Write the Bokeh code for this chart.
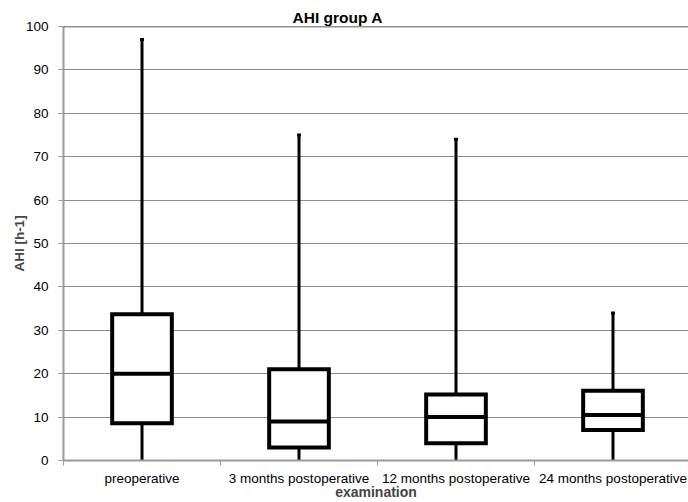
from bokeh.plotting import figure
from bokeh.models import Range1d, FixedTicker, Span, ColumnDataSource, Title
from bokeh.embed import file_html
from bokeh.resources import INLINE

categories = ["preoperative", "3 months postoperative", "12 months postoperative", "24 months postoperative"]
q_min = [0, 0, 0, 0]
q1 = [8.6, 3.0, 4.0, 7.0]
median = [20.0, 9.0, 10.0, 10.5]
q3 = [33.7, 21.0, 15.2, 16.1]
q_max = [97.0, 75.0, 74.0, 34.0]

FONT = "Liberation Sans"
centers = [i + 0.5 for i in range(len(categories))]
bw = 0.38
cap = 0.025

src = ColumnDataSource(dict(
    x=centers, left=[c - bw / 2 for c in centers], right=[c + bw / 2 for c in centers],
    cl=[c - cap / 2 for c in centers], cr=[c + cap / 2 for c in centers],
    lo=q_min, q1=q1, med=median, q3=q3, hi=q_max,
))

p = figure(width=688, height=502, output_backend="svg", toolbar_location=None,
           x_range=Range1d(0, 625 / 157), y_range=Range1d(0, 100),
           min_border_left=63, min_border_right=0, min_border_top=26, min_border_bottom=10)
p.outline_line_color = None
p.background_fill_color = "white"
p.border_fill_color = "white"

p.title = Title(text="AHI group A", align="left", offset=229, text_font=FONT,
                text_font_style="bold", text_font_size="15.5px", text_color="black",
                standoff=1)

# whiskers
p.segment(x0="x", y0="q3", x1="x", y1="hi", source=src, line_color="black", line_width=3)
p.segment(x0="x", y0="lo", x1="x", y1="q1", source=src, line_color="black", line_width=3)
p.segment(x0="cl", y0="hi", x1="cr", y1="hi", source=src, line_color="black", line_width=3)
# boxes
p.quad(left="left", right="right", bottom="q1", top="q3", source=src,
       fill_color="white", line_color="black", line_width=4, line_join="miter")
p.segment(x0="left", y0="med", x1="right", y1="med", source=src, line_color="black", line_width=4)

p.add_layout(Span(location=100, dimension="width", line_color="#222222", line_width=1.5))

# y axis
p.yaxis.ticker = FixedTicker(ticks=list(range(0, 101, 10)))
p.yaxis.axis_line_color = "#9a9a9a"
p.yaxis.axis_line_width = 2
p.yaxis.major_tick_line_color = "#9a9a9a"
p.yaxis.major_tick_out = 5
p.yaxis.major_tick_in = 0
p.yaxis.minor_tick_line_color = None
p.yaxis.major_label_text_font = FONT
p.yaxis.major_label_text_font_size = "13.5px"
p.yaxis.major_label_text_color = "black"
p.yaxis.major_label_standoff = 10
p.yaxis.axis_label = "AHI [h-1]"
p.yaxis.axis_label_text_font = FONT
p.yaxis.axis_label_text_font_style = "bold"
p.yaxis.axis_label_text_font_size = "13.5px"
p.yaxis.axis_label_standoff = -4

# x axis
p.xaxis.ticker = FixedTicker(ticks=centers, minor_ticks=list(range(len(categories) + 1)))
p.xaxis.major_label_overrides = {c: lab for c, lab in zip(centers, categories)}
p.xaxis.axis_line_color = "#9a9a9a"
p.xaxis.axis_line_width = 2
p.xaxis.major_tick_line_color = None
p.xaxis.minor_tick_line_color = "#9a9a9a"
p.xaxis.minor_tick_out = 5
p.xaxis.minor_tick_in = 0
p.xaxis.major_label_text_font = FONT
p.xaxis.major_label_text_font_size = "13.5px"
p.xaxis.major_label_text_color = "black"
p.xaxis.major_label_standoff = 4
p.xaxis.axis_label = "examination"
p.xaxis.axis_label_text_font = FONT
p.xaxis.axis_label_text_font_style = "bold"
p.xaxis.axis_label_text_font_size = "14px"
p.xaxis.axis_label_standoff = -5

p.ygrid.grid_line_color = "#8c8c8c"
p.ygrid.grid_line_width = 1.2
p.xgrid.grid_line_color = None

open("out.html", "w").write(file_html(p, INLINE))
